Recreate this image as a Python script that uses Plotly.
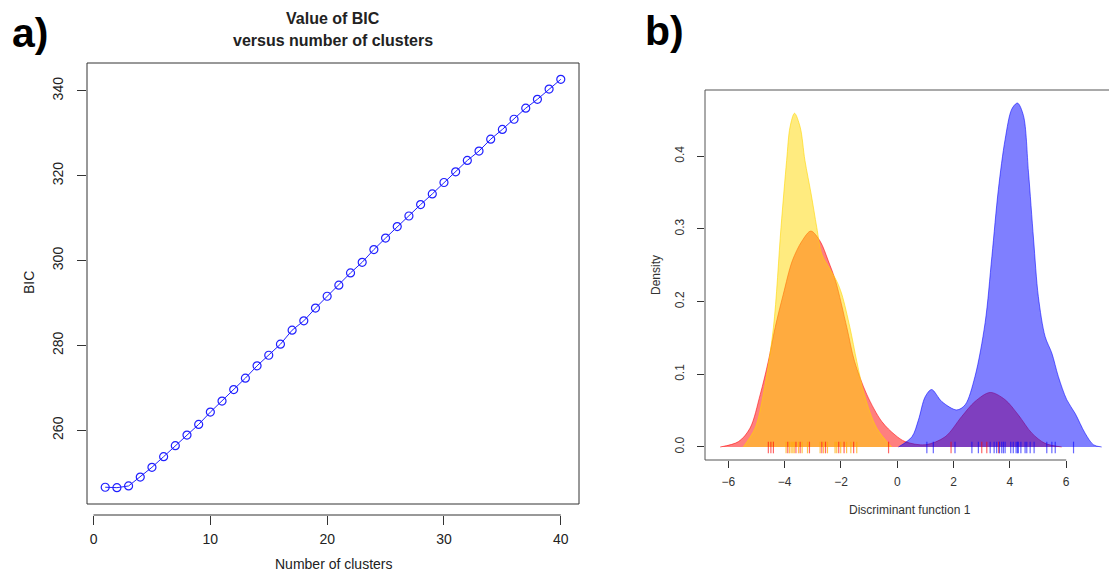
import plotly.graph_objects as go

# ---------------- data ----------------
# Panel a: BIC versus number of clusters
n_clusters = list(range(1, 41))
bic_values = [246.6, 246.5, 246.9, 249.0, 251.3, 253.8, 256.4, 258.9, 261.4, 264.3,
              266.9, 269.6, 272.3, 275.2, 277.7, 280.3, 283.6, 285.8, 288.8, 291.6,
              294.2, 297.1, 299.6, 302.6, 305.3, 308.0, 310.5, 313.2, 315.7, 318.4,
              320.9, 323.6, 325.8, 328.6, 330.9, 333.3, 335.9, 338.0, 340.4, 342.7]
a_xticks = [0, 10, 20, 30, 40]
a_yticks = [260, 280, 300, 320, 340]

# Panel b: densities of discriminant function 1
red_x = [-6.29, -5.64, -5.23, -4.87, -4.58, -4.34, -4.05, -3.73, -3.39, -3.07, -2.74,
         -2.45, -2.19, -1.79, -1.52, -1.08, -0.55, -0.08, 0.28, 0.99, 1.70, 2.29, 2.76,
         3.30, 3.83, 4.30, 4.78, 5.25, 5.84]
red_y = [0.0, 0.0074, 0.026, 0.072, 0.118, 0.164, 0.21, 0.256, 0.283, 0.297, 0.283,
         0.256, 0.228, 0.164, 0.118, 0.072, 0.035, 0.0166, 0.0074, 0.003, 0.014, 0.042,
         0.0625, 0.075, 0.065, 0.044, 0.019, 0.005, 0.0]

yellow_x = [-5.47, -5.05, -4.76, -4.40, -4.13, -3.93, -3.81, -3.65, -3.45, -3.28, -3.06,
            -2.86, -2.68, -2.40, -2.15, -1.97, -1.68, -1.44, -1.17, -0.73, -0.20]
yellow_y = [0.0, 0.026, 0.072, 0.164, 0.302, 0.394, 0.44, 0.459, 0.44, 0.394, 0.348,
            0.302, 0.265, 0.245, 0.228, 0.21, 0.164, 0.118, 0.072, 0.026, 0.0]

blue_x = [0.04, 0.52, 0.75, 0.99, 1.22, 1.58, 2.11, 2.41, 2.76, 3.12, 3.36, 3.59, 3.83,
          4.07, 4.27, 4.48, 4.66, 4.84, 5.01, 5.25, 5.49, 5.72, 6.02, 6.32, 6.67, 6.97, 7.26]
blue_y = [0.0, 0.014, 0.037, 0.069, 0.079, 0.0625, 0.051, 0.058, 0.097, 0.171, 0.262,
          0.354, 0.423, 0.465, 0.473, 0.456, 0.378, 0.286, 0.207, 0.152, 0.129, 0.097,
          0.065, 0.046, 0.019, 0.003, 0.0]

red_rug = [-4.58, -4.49, -4.40, -3.89, -3.60, -3.45, -3.12, -2.68, -2.55, -2.08, -1.89,
           -1.55, -0.31, 1.91, 3.00, 3.18, 3.60]
yellow_rug = [-3.95, -3.83, -3.77, -3.71, -3.66, -3.51, -3.38, -3.19, -2.74, -2.62,
              -2.48, -2.21, -2.15, -2.01, -1.80, -1.65, -1.44]
blue_rug = [1.05, 1.28, 2.05, 2.65, 2.88, 3.30, 3.44, 3.53, 3.63, 3.71, 3.77, 3.83, 4.03,
            4.12, 4.22, 4.27, 4.30, 4.39, 4.54, 4.60, 4.72, 4.86, 5.31, 5.49, 5.61, 6.26]
b_xticks = [-6, -4, -2, 0, 2, 4, 6]
b_yticks = [0.0, 0.1, 0.2, 0.3, 0.4]
b_yticklabels = ["0.0", "0.1", "0.2", "0.3", "0.4"]

# ---------------- figure ----------------
W, H = 1109, 574
FONT = "Liberation Sans, Arial, Helvetica, sans-serif"


def px_x(p):
    return p / W


def px_y(p):
    return 1 - p / H


fig = go.Figure()

# Panel a
fig.add_trace(go.Scatter(
    x=n_clusters, y=bic_values, mode="lines+markers",
    line=dict(color="#2020ff", width=1),
    marker=dict(symbol="circle-open", size=8, color="#2020ff", line=dict(width=1.2)),
    xaxis="x", yaxis="y", showlegend=False, cliponaxis=False))

# Panel b densities (red first, then yellow, then blue)
def density(xs, ys, rgb, fill_a, line_a):
    return go.Scatter(
        x=xs, y=ys, mode="lines", fill="tozeroy",
        line=dict(color=f"rgba({rgb},{line_a})", width=1, shape="spline", smoothing=0.9),
        fillcolor=f"rgba({rgb},{fill_a})",
        xaxis="x2", yaxis="y2", showlegend=False)


fig.add_trace(density(red_x, red_y, "255,0,0", 0.5, 0.55))
fig.add_trace(density(yellow_x, yellow_y, "255,215,0", 0.5, 0.6))
fig.add_trace(density(blue_x, blue_y, "0,0,255", 0.5, 0.55))

RUG_LO, RUG_HI = -0.0087, 0.0073


def rug(vals, color):
    xs, ys = [], []
    for v in vals:
        xs += [v, v, None]
        ys += [RUG_LO, RUG_HI, None]
    return go.Scatter(x=xs, y=ys, mode="lines", line=dict(color=color, width=1.2),
                      xaxis="x2", yaxis="y2", showlegend=False)


fig.add_trace(rug(red_rug, "rgba(255,0,0,0.6)"))
fig.add_trace(rug(yellow_rug, "rgba(255,170,0,0.7)"))
fig.add_trace(rug(blue_rug, "rgba(0,0,255,0.6)"))

axis_common = dict(showgrid=False, zeroline=False, showline=False, ticks="outside",
                   tickcolor="#333", tickwidth=1)

fig.update_layout(
    width=W, height=H, autosize=False,
    margin=dict(l=0, r=0, t=0, b=0, pad=0),
    paper_bgcolor="white", plot_bgcolor="white",
    font=dict(family=FONT, color="#222"),
    xaxis=dict(domain=[px_x(87), px_x(579)], range=[-0.56, 41.56],
               tickvals=a_xticks, ticklen=9, anchor="free", position=px_y(515),
               tickfont=dict(size=14), ticklabelstandoff=2, **axis_common),
    yaxis=dict(domain=[px_y(504), px_y(63)], range=[242.65, 346.55],
               tickvals=a_yticks, ticklen=9, anchor="x", tickangle=-90,
               tickfont=dict(size=14), ticklabelstandoff=8, **axis_common),
    xaxis2=dict(domain=[px_x(705), 1.0], range=[-6.83, 7.52],
                tickvals=b_xticks, ticklen=7, anchor="y2",
                tickfont=dict(size=12, color="#333"), ticklabelstandoff=4, **axis_common),
    yaxis2=dict(domain=[px_y(460), px_y(90)], range=[-0.0179, 0.491],
                tickvals=b_yticks, ticktext=b_yticklabels, ticklen=7, anchor="x2",
                tickangle=-90, tickfont=dict(size=12, color="#333"),
                ticklabelstandoff=8, **axis_common),
)

# frames / axis lines
shapes = [
    dict(type="rect", xref="x domain", yref="y domain", x0=0, x1=1, y0=0, y1=1,
         line=dict(color="#333", width=1)),
    dict(type="line", xref="x", yref="paper", x0=0, x1=40, y0=px_y(515), y1=px_y(515),
         line=dict(color="#333", width=1)),
    dict(type="line", xref="x2 domain", yref="y2 domain", x0=0, x1=0, y0=0, y1=1,
         line=dict(color="#555", width=1)),
    dict(type="line", xref="x2 domain", yref="y2 domain", x0=0, x1=1, y0=1, y1=1,
         line=dict(color="#555", width=1)),
    dict(type="line", xref="x2", yref="y2 domain", x0=-6.83, x1=6, y0=0, y1=0,
         line=dict(color="#555", width=1)),
]
fig.update_layout(shapes=shapes)

ann = [
    dict(text="<b>a)</b>", x=px_x(30), y=px_y(33), font=dict(size=41, color="black")),
    dict(text="<b>b)</b>", x=px_x(664), y=px_y(31), font=dict(size=41, color="black")),
    dict(text="<b>Value of BIC</b>", x=px_x(333), y=px_y(19), font=dict(size=16)),
    dict(text="<b>versus number of clusters</b>", x=px_x(333), y=px_y(41), font=dict(size=16)),
    dict(text="Number of clusters", x=px_x(333), y=px_y(564), font=dict(size=14)),
    dict(text="BIC", x=px_x(29), y=px_y(283), font=dict(size=14), textangle=-90),
    dict(text="Discriminant function 1", x=px_x(910), y=px_y(510), font=dict(size=12, color="#333")),
    dict(text="Density", x=px_x(656), y=px_y(275), font=dict(size=12, color="#333"), textangle=-90),
]
for a in ann:
    a.update(xref="paper", yref="paper", showarrow=False, xanchor="center", yanchor="middle")
fig.update_layout(annotations=ann)

fig.write_html("out.html", config={"displayModeBar": False},
               post_script="document.body.style.margin='0';document.body.style.overflow='hidden';")
